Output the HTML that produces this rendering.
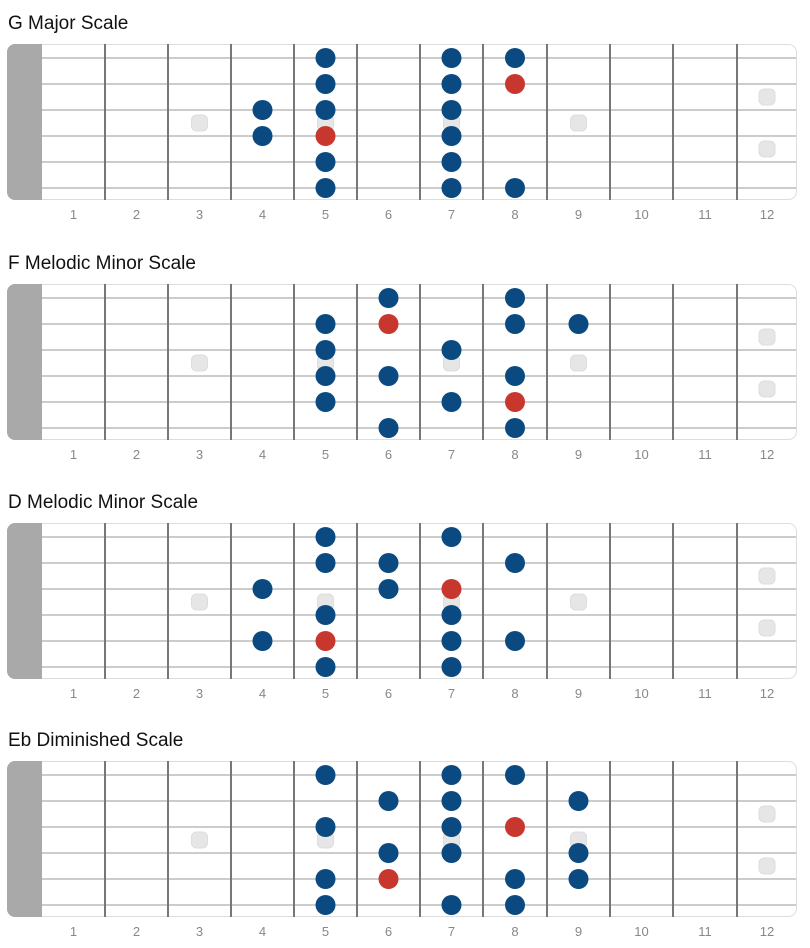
<!DOCTYPE html><html><head><style>body{margin:0;background:#fff;width:810px;height:948px;overflow:hidden}svg{display:block}</style></head><body>
<svg width="810" height="948" xmlns="http://www.w3.org/2000/svg" font-family="Liberation Sans, sans-serif">
<g id="all"></g>
</svg>
<script>
const data=[
["G Major Scale",0,[[5,0],[5,1],[5,2],[5,3,1],[5,4],[5,5],[4,2],[4,3],[7,0],[7,1],[7,2],[7,3],[7,4],[7,5],[8,0],[8,1,1],[8,5]]],
["F Melodic Minor Scale",240,[[6,0],[6,1,1],[6,3],[6,5],[5,1],[5,2],[5,3],[5,4],[7,2],[7,4],[8,0],[8,1],[8,3],[8,4,1],[8,5],[9,1]]],
["D Melodic Minor Scale",479,[[5,0],[5,1],[5,3],[5,4,1],[5,5],[6,1],[6,2],[4,2],[4,4],[7,0],[7,2,1],[7,3],[7,4],[7,5],[8,1],[8,4]]],
["Eb Diminished Scale",717,[[5,0],[5,2],[5,4],[5,5],[6,1],[6,3],[6,4,1],[7,0],[7,1],[7,2],[7,3],[7,5],[8,0],[8,2,1],[8,4],[8,5],[9,1],[9,3],[9,4]]]];
const frets=[42,105,168,231,294,357,420,483,547,610,673,737,797];
let s='';
for(const [t,o,d] of data){
 s+=`<text x="8" y="${o+29}" font-size="19" fill="#111">${t}</text>`;
 s+=`<rect x="7.5" y="${o+44.5}" width="789" height="155" rx="8" fill="#fff" stroke="#ddd"/>`;
 s+=`<path d="M15 ${o+44}H42V${o+200}H15A8 8 0 0 1 7 ${o+192}V${o+52}A8 8 0 0 1 15 ${o+44}Z" fill="#a9a9a9"/>`;
 for(let i=0;i<6;i++){const y=o+58+26*i;s+=`<line x1="42" x2="796" y1="${y}" y2="${y}" stroke="#999" stroke-width="1"/>`;}
 for(let i=1;i<12;i++)s+=`<line x1="${frets[i]}" x2="${frets[i]}" y1="${o+44}" y2="${o+200}" stroke="#777" stroke-width="2"/>`;
 for(let i=1;i<=12;i++){const x=(frets[i-1]+frets[i])/2;s+=`<text x="${x}" y="${o+219}" font-size="13" fill="#888" text-anchor="middle">${i}</text>`;}
 const inl=(f,y)=>{const x=(frets[f-1]+frets[f])/2;s+=`<rect x="${x-8}" y="${y-8}" width="16" height="16" rx="5" fill="#e6e6e6" stroke="#ddd"/>`;};
 [3,5,7,9].forEach(f=>inl(f,o+123));inl(12,o+97);inl(12,o+149);
 for(const [f,st,r] of d){const x=(frets[f-1]+frets[f])/2;s+=`<circle cx="${x}" cy="${o+58+26*st}" r="10" fill="${r?'#c8372d':'#0b4a80'}"/>`;}
}
document.getElementById('all').innerHTML=s;
</script>
</body></html>
